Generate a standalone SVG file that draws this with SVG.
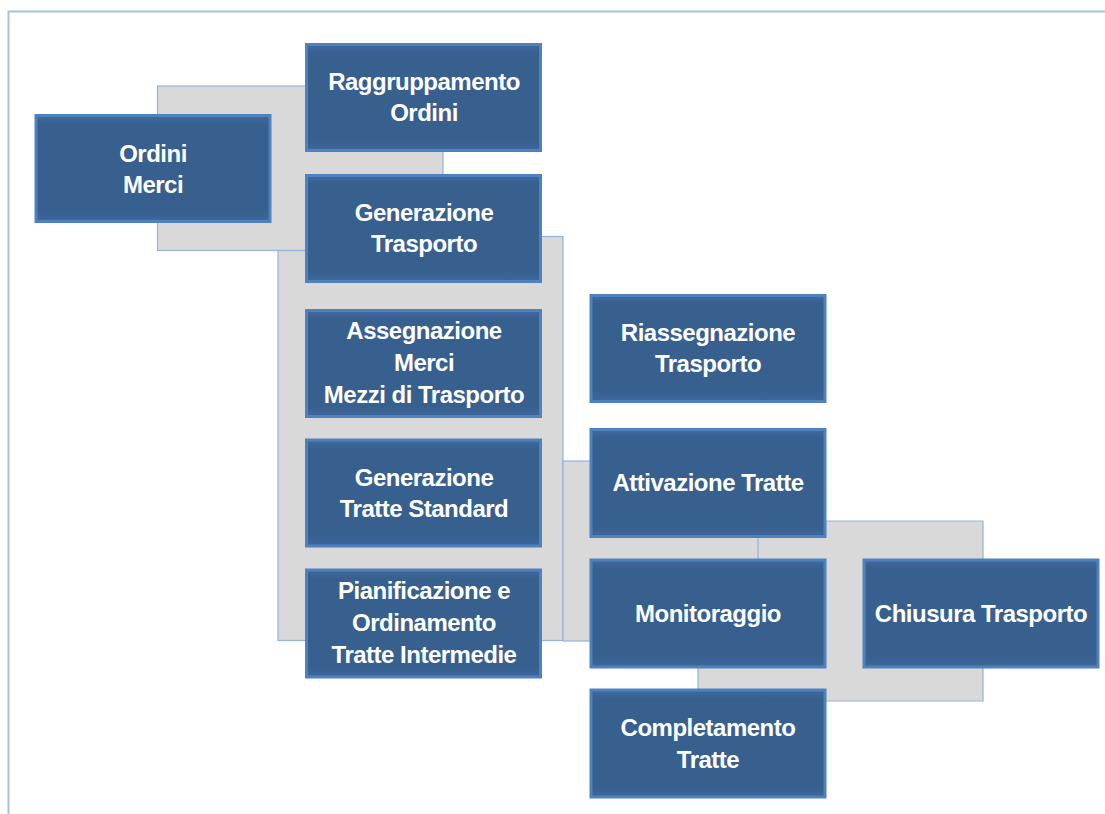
<svg xmlns="http://www.w3.org/2000/svg" width="1105" height="814" viewBox="0 0 1105 814">
<style>
.bg{fill:#d9d9d9;stroke:#95b3d7;stroke-width:1.2}
.box{fill:url(#bev);stroke:#4f81bd;stroke-width:3}
.t{font-family:"Liberation Sans",Arial,sans-serif;font-weight:bold;font-size:24px;letter-spacing:-0.5px;fill:#ffffff;text-anchor:middle}
</style>
<defs>
<linearGradient id="bev" x1="0" y1="0" x2="0" y2="1">
<stop offset="0" stop-color="#4069a0"/>
<stop offset="0.08" stop-color="#37608f"/>
<stop offset="0.9" stop-color="#37608f"/>
<stop offset="1" stop-color="#3e679c"/>
</linearGradient>
</defs>
<rect width="1105" height="814" fill="#ffffff"/>
<path d="M8.5,814 V11.5 H1105" fill="none" stroke="#a9c0de" stroke-width="2"/>
<g id="connectors">
<rect class="bg" x="278" y="236.5" width="285" height="404"/>
<rect class="bg" x="157.5" y="86" width="285.5" height="164.5"/>
<rect class="bg" x="563" y="461" width="230" height="180"/>
<polygon class="bg" points="758,521 983,521 983,701 698,701 698,640 758,640"/>
</g>
<g id="n-ordini"><rect class="box" x="36" y="115.5" width="234" height="106"/><text class="t" x="153" y="162">Ordini</text><text class="t" x="153" y="193">Merci</text></g>
<g id="n-raggr"><rect class="box" x="306.5" y="44.5" width="234" height="106"/><text class="t" x="424" y="90">Raggruppamento</text><text class="t" x="424" y="121">Ordini</text></g>
<g id="n-gentr"><rect class="box" x="306.5" y="175.5" width="234" height="106"/><text class="t" x="424" y="221">Generazione</text><text class="t" x="424" y="252">Trasporto</text></g>
<g id="n-asse"><rect class="box" x="306.5" y="310.5" width="234" height="106"/><text class="t" x="424" y="339">Assegnazione</text><text class="t" x="424" y="371">Merci</text><text class="t" x="424" y="403">Mezzi di Trasporto</text></g>
<g id="n-genstd"><rect class="box" x="306.5" y="440" width="234" height="106"/><text class="t" x="424" y="486">Generazione</text><text class="t" x="424" y="517">Tratte Standard</text></g>
<g id="n-pian"><rect class="box" x="306.5" y="570" width="234" height="107"/><text class="t" x="424" y="599">Pianificazione e</text><text class="t" x="424" y="631">Ordinamento</text><text class="t" x="424" y="663">Tratte Intermedie</text></g>
<g id="n-riass"><rect class="box" x="591" y="295.5" width="234" height="106"/><text class="t" x="708" y="341">Riassegnazione</text><text class="t" x="708" y="372">Trasporto</text></g>
<g id="n-attiv"><rect class="box" x="591" y="429.5" width="234" height="107"/><text class="t" x="708" y="491">Attivazione Tratte</text></g>
<g id="n-monit"><rect class="box" x="591" y="560" width="234" height="107"/><text class="t" x="708" y="622">Monitoraggio</text></g>
<g id="n-chius"><rect class="box" x="864" y="560" width="234" height="107"/><text class="t" x="981" y="622">Chiusura Trasporto</text></g>
<g id="n-compl"><rect class="box" x="591" y="690" width="234" height="107"/><text class="t" x="708" y="736">Completamento</text><text class="t" x="708" y="768">Tratte</text></g>
</svg>
